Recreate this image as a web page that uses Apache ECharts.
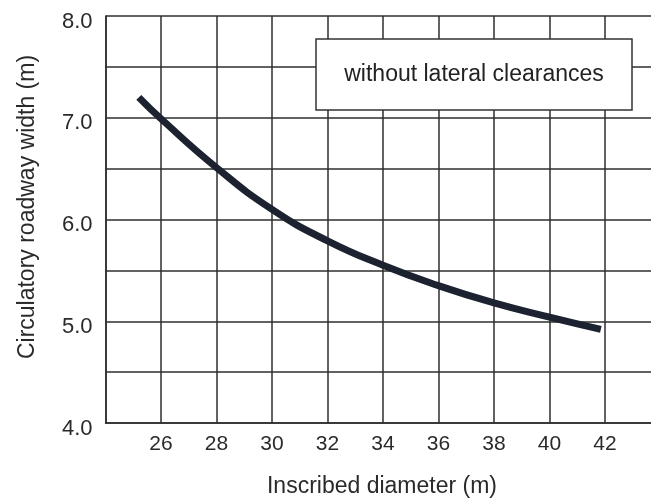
<!DOCTYPE html>
<html>
<head>
<meta charset="utf-8">
<script src="https://cdn.jsdelivr.net/npm/echarts@6/dist/echarts.min.js"></script>
<style>html,body{margin:0;padding:0;background:#fff;}#c{width:651px;height:500px;}</style>
</head>
<body>
<div id="c"></div>
<script>
var diameters = [25.2, 26, 28, 30, 32, 34, 36, 38, 40, 41.85];
var widths = [7.20, 6.99, 6.51, 6.10, 5.79, 5.55, 5.35, 5.18, 5.04, 4.92];
var xTickLabels = ['26','28','30','32','34','36','38','40','42'];
var yTickLabels = ['4.0','5.0','6.0','7.0','8.0'];
var xTitle = 'Inscribed diameter (m)';
var yTitle = 'Circulatory roadway width (m)';
var boxText = 'without lateral clearances';

var chart = echarts.init(document.getElementById('c'), null, {renderer:'canvas'});
var font = 'Liberation Sans, Arial, sans-serif';
var gridCol = '#2e2e2e';
chart.setOption({
  animation:false,
  backgroundColor:'#fff',
  grid:{left:105.5, top:16, width:555, height:407, containLabel:false, outerBoundsMode:'none'},
  xAxis:{
    type:'value', min:24, max:44, interval:2,
    axisLine:{show:true, onZero:false, lineStyle:{color:gridCol, width:1.5}},
    axisTick:{show:false},
    splitLine:{show:true, lineStyle:{color:gridCol, width:1.5}},
    axisLabel:{
      margin:11, color:'#2a2a2a', fontSize:21, fontFamily:font,
      formatter:function(v){ var s=String(v); return xTickLabels.indexOf(s)>=0 ? s : ''; }
    }
  },
  yAxis:{
    type:'value', min:4, max:8, interval:0.5,
    axisLine:{show:true, lineStyle:{color:gridCol, width:1.5}},
    axisTick:{show:false},
    splitLine:{show:true, lineStyle:{color:gridCol, width:1.5}},
    axisLabel:{
      margin:13, color:'#2a2a2a', fontSize:22, fontFamily:font,
      formatter:function(v){ var s=v.toFixed(1); return yTickLabels.indexOf(s)>=0 ? '{a|' + s + '}' : ''; },
      rich:{a:{fontSize:22, fontFamily:font, color:'#2a2a2a', padding:[11,0,0,0]}}
    }
  },
  series:[{
    type:'line',
    data:diameters.map(function(d,i){return [d, widths[i]];}),
    smooth:true,
    showSymbol:false,
    lineStyle:{color:'#1c2230', width:7, cap:'butt'}
  }],
  graphic:[
    {type:'rect', shape:{x:316, y:39, width:316, height:71},
     style:{fill:'#fff', stroke:'#333', lineWidth:1.5}, z:100},
    {type:'text', x:474, y:75, z:101,
     style:{text:boxText, fontSize:23, fontFamily:font, fill:'#222', textAlign:'center', textVerticalAlign:'middle'}},
    {type:'text', x:382, y:487, z:101,
     style:{text:xTitle, fontSize:23, fontFamily:font, fill:'#2a2a2a', textAlign:'center', textVerticalAlign:'middle'}},
    {type:'text', x:28, y:207, rotation:Math.PI/2, z:101,
     style:{text:yTitle, fontSize:23, fontFamily:font, fill:'#2a2a2a', textAlign:'center', textVerticalAlign:'middle'}}
  ]
});
</script>
</body>
</html>
